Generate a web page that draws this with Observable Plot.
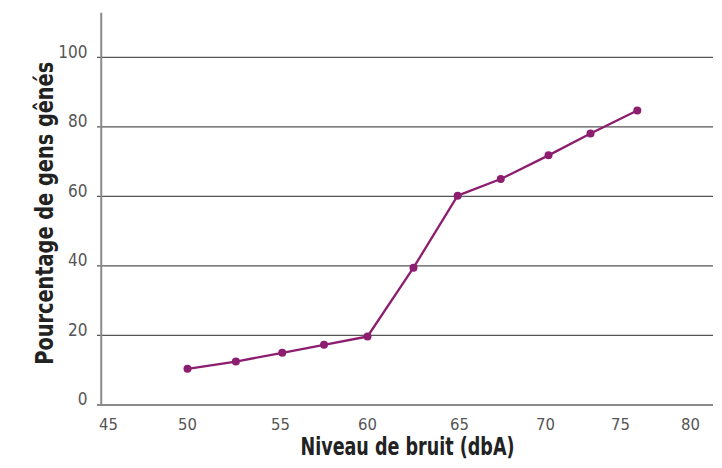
<!DOCTYPE html>
<html>
<head>
<meta charset="utf-8">
<script src="https://cdn.jsdelivr.net/npm/d3@7"></script>
<script src="https://cdn.jsdelivr.net/npm/@observablehq/plot@0.6"></script>
<style>
  html, body { margin: 0; padding: 0; background: #fff; }
  svg { display: block; }
  svg text { font-stretch: condensed; }
</style>
</head>
<body>
<div id="chart"></div>
<script>
// Noise level (dBA) and percentage of people annoyed
const noise = [50, 52.6, 55.1, 57.5, 60, 62.5, 64.9, 67.4, 70.2, 73, 76.2];
const annoyed = [10.4, 12.5, 15.0, 17.3, 19.7, 39.5, 60.2, 65.0, 71.8, 78.1, 84.7];

// Tick labels
const xTicks = [45, 50, 55, 60, 65, 70, 75, 80];
const yTicks = [0, 20, 40, 60, 80, 100];
const yGrid = [20, 40, 60, 80, 100];

const xTitle = "Niveau de bruit (dbA)";
const yTitle = "Pourcentage de gens gênés";

const data = noise.map((x, i) => ({x, y: annoyed[i]}));

const purple = "#8c1d6f";
const labelFont = "'DejaVu Sans Condensed', 'Liberation Sans Narrow', 'DejaVu Sans', sans-serif";

const chart = Plot.plot({
  width: 722,
  height: 468,
  marginLeft: 101,
  marginRight: 9,
  marginTop: 22,
  marginBottom: 63.5,
  x: {
    type: "linear",
    domain: xTicks,
    range: [108, 187, 280, 367, 459, 545, 620, 690],
    axis: null
  },
  y: {
    type: "linear",
    domain: [0, 100],
    range: [404.5, 56.8],
    axis: null
  },
  style: {fontFamily: labelFont},
  marks: [
    // horizontal gridlines
    Plot.ruleY(yGrid, {stroke: "#555", strokeWidth: 1.3, insetLeft: -4}),
    // baseline (x axis)
    Plot.ruleY([0], {stroke: "#8a8a8a", strokeWidth: 2, insetLeft: -4}),
    // y axis line
    Plot.ruleX([44.54], {y1: 0, y2: 112.7, stroke: "#8a8a8a", strokeWidth: 2}),
    // y tick labels
    Plot.text(yTicks, {y: d => d, frameAnchor: "left", dx: -14, dy: -5, textAnchor: "end",
      fontSize: 17, fill: "#555", className: "ytick"}),
    // x tick labels
    Plot.text(xTicks, {x: d => d, y: () => 0, dy: 20, fontSize: 16.5, fill: "#555", className: "xtick"}),
    // series
    Plot.line(data, {x: "x", y: "y", stroke: purple, strokeWidth: 2.3}),
    Plot.dot(data, {x: "x", y: "y", r: 4, fill: purple, stroke: "none"}),
    // axis titles
    Plot.text([xTitle], {frameAnchor: "bottom", dy: 50, fontSize: 24, fontWeight: "bold", fill: "#222", className: "xtitle"}),
    Plot.text([yTitle], {frameAnchor: "left", dx: -56, dy: 151, rotate: -90, textAnchor: "start",
      fontSize: 24, fontWeight: "bold", fill: "#222", className: "ytitle"})
  ]
});

document.getElementById("chart").append(chart);

// Fit the condensed titles to the reference's text lengths
function fit(selector, len) {
  chart.querySelectorAll(selector + " text").forEach(t => {
    t.setAttribute("textLength", len);
    t.setAttribute("lengthAdjust", "spacingAndGlyphs");
  });
}
fit(".xtitle", 214);
fit(".ytitle", 303);
</script>
</body>
</html>
